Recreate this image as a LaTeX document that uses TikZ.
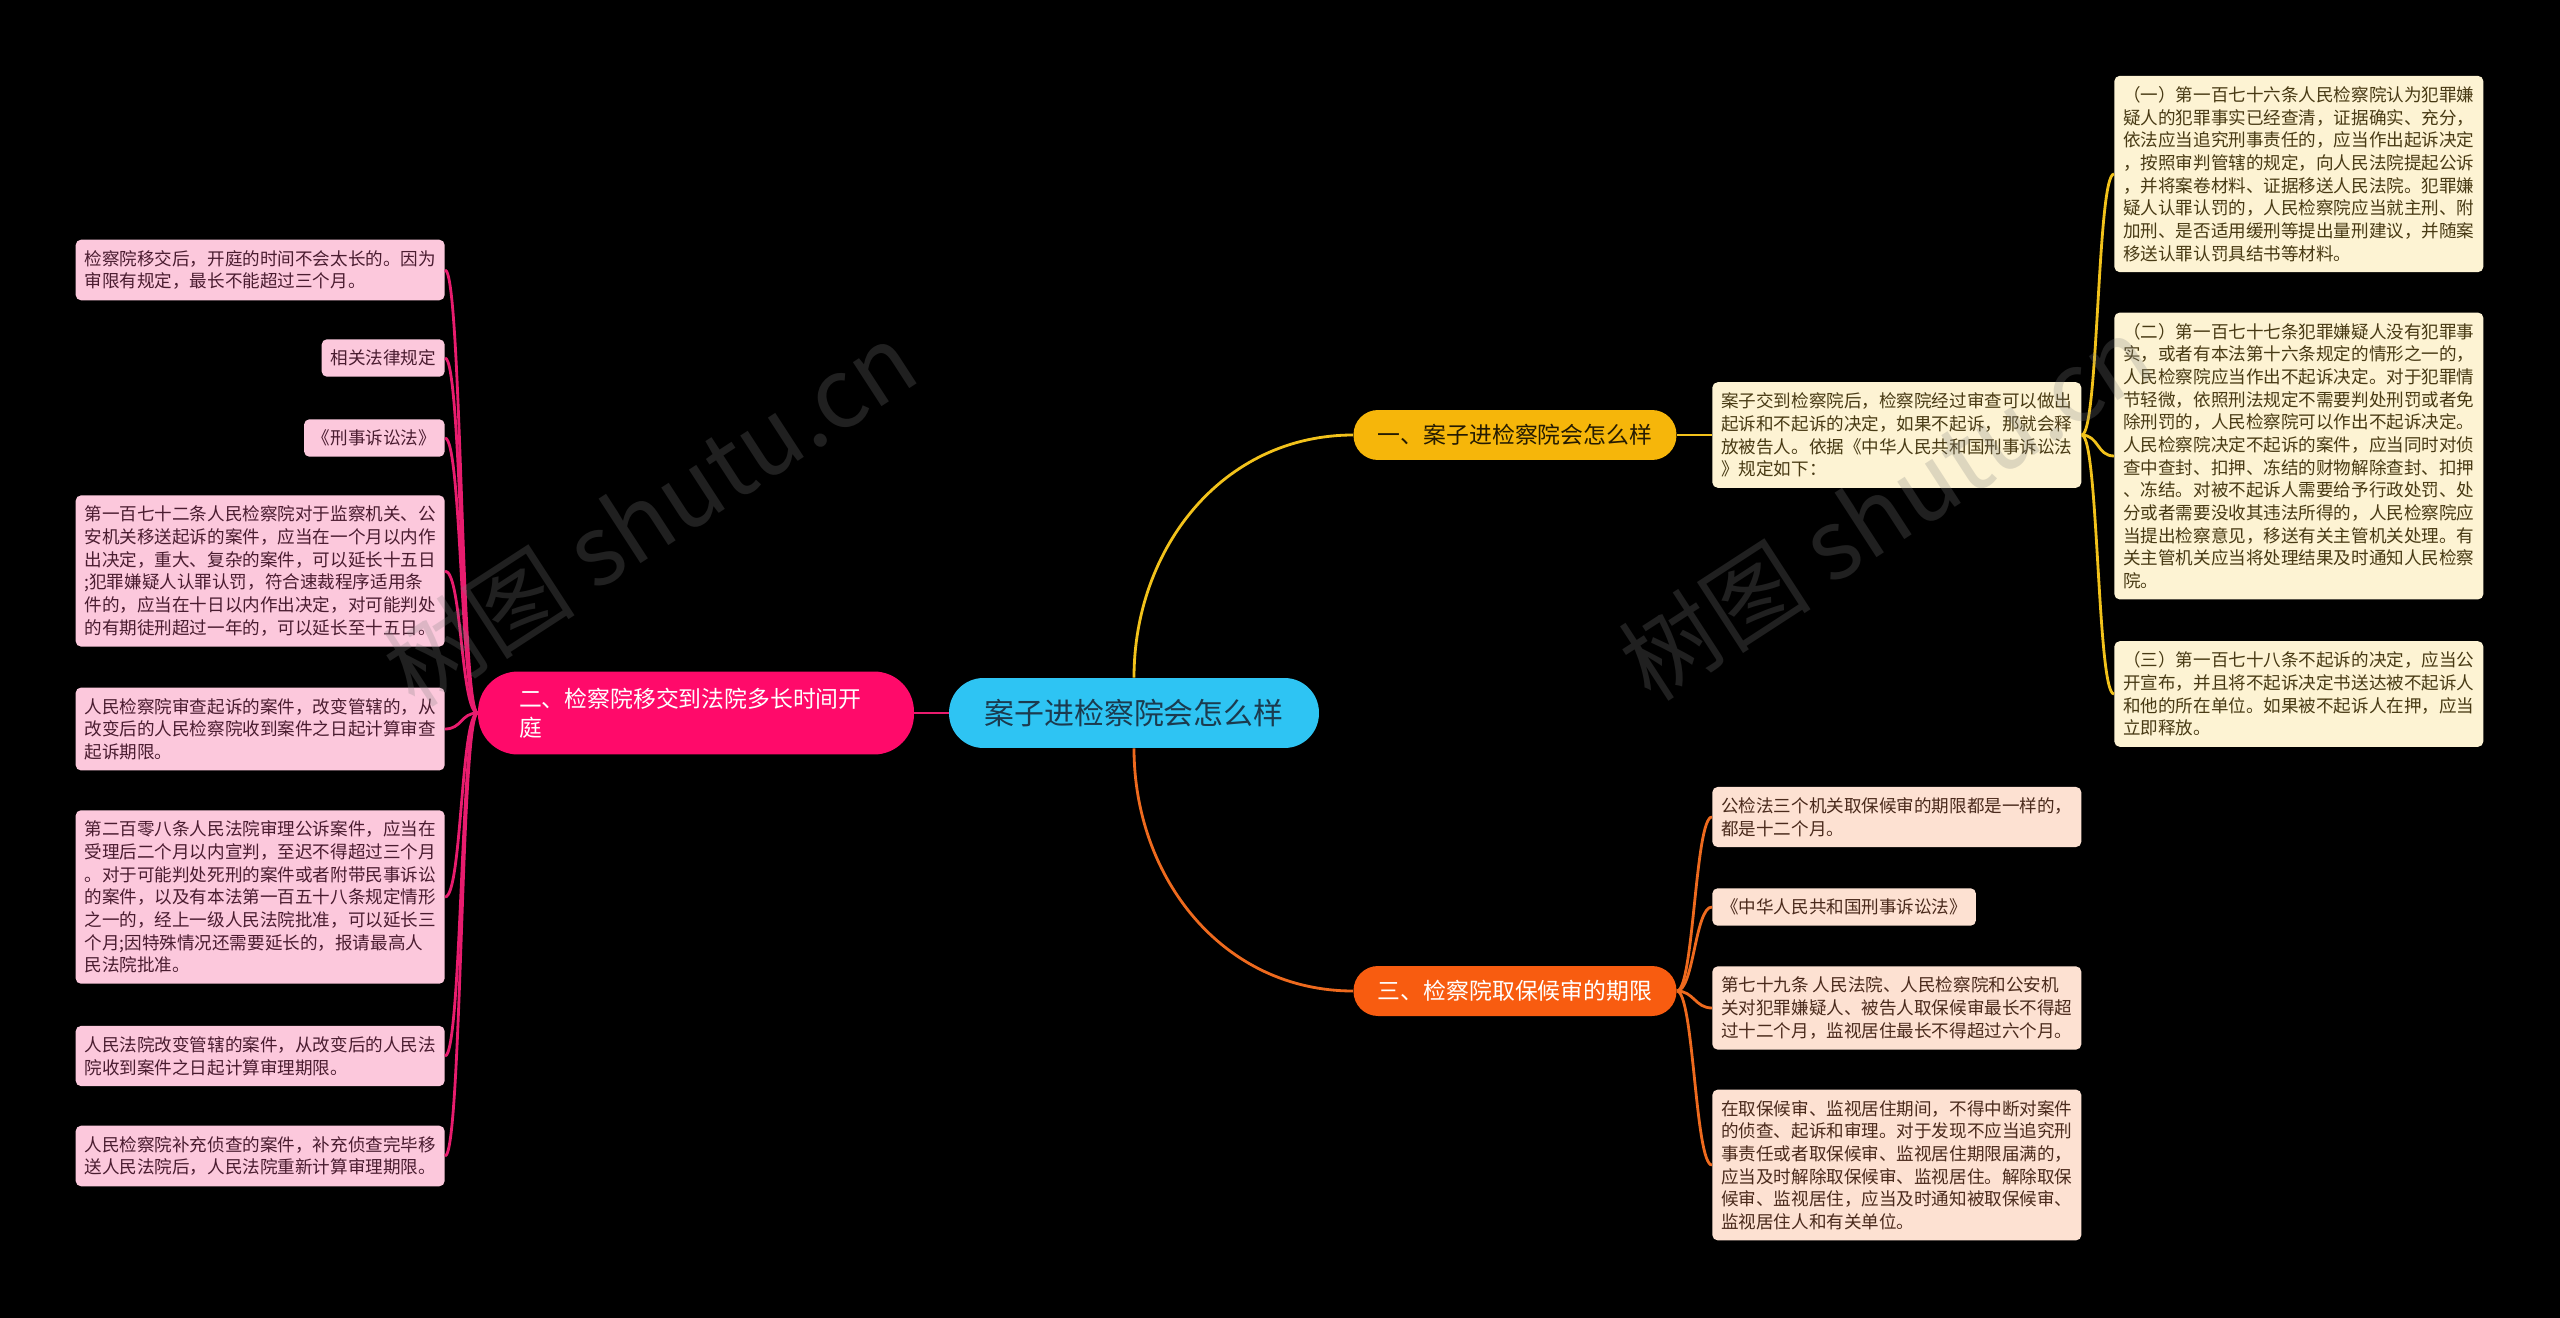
\documentclass[tikz,border=0pt]{standalone}
\usepackage{fontspec}
\setmainfont{Noto Sans CJK SC}
\usepackage{xcolor}
\usetikzlibrary{positioning}

\definecolor{rootblue}{HTML}{2EC4F3}
\definecolor{rootink}{HTML}{1B3B4F}
\definecolor{oneyellow}{HTML}{F6B60A}
\definecolor{onelink}{HTML}{F2C21B}
\definecolor{twopink}{HTML}{FF0A6A}
\definecolor{twolink}{HTML}{E81C6E}
\definecolor{threeorange}{HTML}{F85C10}
\definecolor{threelink}{HTML}{EE6A1E}
\definecolor{creambox}{HTML}{FDF3D3}
\definecolor{pinkbox}{HTML}{FCC8DC}
\definecolor{peachbox}{HTML}{FDE1D2}
\definecolor{pinkink}{HTML}{4A1C30}
\definecolor{creamink}{HTML}{483A14}
\definecolor{peachink}{HTML}{4A2A1C}

\tikzset{
  leaf/.style={rounded corners=3pt, align=left, inner xsep=5pt, inner ysep=6pt,
    font=\fontsize{10pt}{12.9pt}\selectfont},
  pinkleaf/.style={leaf, fill=pinkbox, text=pinkink, anchor=east},
  creamleaf/.style={leaf, fill=creambox, text=creamink, anchor=west},
  peachleaf/.style={leaf, fill=peachbox, text=peachink, anchor=west},
  branch/.style={rounded corners=0.49cm, minimum width=6.46cm, minimum height=1cm,
    font=\fontsize{13pt}{16.5pt}\selectfont},
  link/.style={line width=1.6pt},
  watermark/.style={text=gray, opacity=0.25, rotate=33,
    font=\fontsize{55pt}{60pt}\selectfont}
}

\begin{document}
\begin{tikzpicture}[x=0.02cm, y=-0.02cm]
    % Background
    \fill[black] (0,0) rectangle (2560,1318);

    % Centre and main branches
    \node[fill=rootblue, text=rootink, rounded corners=0.69cm, minimum width=7.4cm,
      minimum height=1.4cm, font=\fontsize{17pt}{20pt}\selectfont] (root) at (1134,713) {案子进检察院会怎么样};
    \node[branch, fill=oneyellow, text=black!85!oneyellow] (one) at (1515,435) {一、案子进检察院会怎么样};
    \node[branch, fill=twopink, text=white, minimum width=8.72cm, minimum height=1.66cm,
      rounded corners=0.8cm, align=left, text width=7.08cm, inner xsep=0.82cm] (two) at (696,713)
      {二、检察院移交到法院多长时间开\\庭};
    \node[branch, fill=threeorange, text=white] (three) at (1515,991) {三、检察院取保候审的期限};

    % Branch one
    \node[creamleaf] (intro) at (1712,435) {案子交到检察院后，检察院经过审查可以做出\\起诉和不起诉的决定，如果不起诉，那就会释\\放被告人。依据《中华人民共和国刑事诉讼法\\》规定如下：};
    \node[creamleaf] (a) at (2114,174) {（一）第一百七十六条人民检察院认为犯罪嫌\\疑人的犯罪事实已经查清，证据确实、充分，\\依法应当追究刑事责任的，应当作出起诉决定\\，按照审判管辖的规定，向人民法院提起公诉\\，并将案卷材料、证据移送人民法院。犯罪嫌\\疑人认罪认罚的，人民检察院应当就主刑、附\\加刑、是否适用缓刑等提出量刑建议，并随案\\移送认罪认罚具结书等材料。};
    \node[creamleaf] (b) at (2114,456) {（二）第一百七十七条犯罪嫌疑人没有犯罪事\\实，或者有本法第十六条规定的情形之一的，\\人民检察院应当作出不起诉决定。对于犯罪情\\节轻微，依照刑法规定不需要判处刑罚或者免\\除刑罚的，人民检察院可以作出不起诉决定。\\人民检察院决定不起诉的案件，应当同时对侦\\查中查封、扣押、冻结的财物解除查封、扣押\\、冻结。对被不起诉人需要给予行政处罚、处\\分或者需要没收其违法所得的，人民检察院应\\当提出检察意见，移送有关主管机关处理。有\\关主管机关应当将处理结果及时通知人民检察\\院。};
    \node[creamleaf] (c) at (2114,694) {（三）第一百七十八条不起诉的决定，应当公\\开宣布，并且将不起诉决定书送达被不起诉人\\和他的所在单位。如果被不起诉人在押，应当\\立即释放。};

    % Branch two
    \node[pinkleaf] (l1) at (445,270) {检察院移交后，开庭的时间不会太长的。因为\\审限有规定，最长不能超过三个月。};
    \node[pinkleaf] (l2) at (445,358) {相关法律规定};
    \node[pinkleaf] (l3) at (445,438) {《刑事诉讼法》};
    \node[pinkleaf] (l4) at (445,571) {第一百七十二条人民检察院对于监察机关、公\\安机关移送起诉的案件，应当在一个月以内作\\出决定，重大、复杂的案件，可以延长十五日\\;犯罪嫌疑人认罪认罚，符合速裁程序适用条\\件的，应当在十日以内作出决定，对可能判处\\的有期徒刑超过一年的，可以延长至十五日。};
    \node[pinkleaf] (l5) at (445,729) {人民检察院审查起诉的案件，改变管辖的，从\\改变后的人民检察院收到案件之日起计算审查\\起诉期限。};
    \node[pinkleaf] (l6) at (445,897) {第二百零八条人民法院审理公诉案件，应当在\\受理后二个月以内宣判，至迟不得超过三个月\\。对于可能判处死刑的案件或者附带民事诉讼\\的案件，以及有本法第一百五十八条规定情形\\之一的，经上一级人民法院批准，可以延长三\\个月;因特殊情况还需要延长的，报请最高人\\民法院批准。};
    \node[pinkleaf] (l7) at (445,1056) {人民法院改变管辖的案件，从改变后的人民法\\院收到案件之日起计算审理期限。};
    \node[pinkleaf] (l8) at (445,1156) {人民检察院补充侦查的案件，补充侦查完毕移\\送人民法院后，人民法院重新计算审理期限。};

    % Branch three
    \node[peachleaf] (d) at (1712,817) {公检法三个机关取保候审的期限都是一样的，\\都是十二个月。};
    \node[peachleaf] (e) at (1712,907) {《中华人民共和国刑事诉讼法》};
    \node[peachleaf] (f) at (1712,1008) {第七十九条 人民法院、人民检察院和公安机\\关对犯罪嫌疑人、被告人取保候审最长不得超\\过十二个月，监视居住最长不得超过六个月。};
    \node[peachleaf] (g) at (1712,1165) {在取保候审、监视居住期间，不得中断对案件\\的侦查、起诉和审理。对于发现不应当追究刑\\事责任或者取保候审、监视居住期限届满的，\\应当及时解除取保候审、监视居住。解除取保\\候审、监视居住，应当及时通知被取保候审、\\监视居住人和有关单位。};

    % Links
    \draw[link, onelink] (root.north) .. controls +(0,-130) and +(-130,0) .. (one.west);
    \draw[link, twolink] (root.west) -- (two.east);
    \draw[link, threelink] (root.south) .. controls +(0,130) and +(-130,0) .. (three.west);
    \draw[link, onelink] (one.east) -- (intro.west);
    \foreach \n in {a,b,c}
        \draw[link, onelink] (intro.east) .. controls +(17,0) and +(-17,0) .. (\n.west);
    \foreach \n in {l1,l2,l3,l4,l5,l6,l7,l8}
        \draw[link, twolink] (two.west) .. controls +(-17,0) and +(17,0) .. (\n.east);
    \foreach \n in {d,e,f,g}
        \draw[link, threelink] (three.east) .. controls +(17,0) and +(-17,0) .. (\n.west);

    % Watermarks
    \node[watermark] (markleft) at (650,514) {树图 shutu.cn};
    \node[watermark] (markright) at (1886,508) {树图 shutu.cn};
\end{tikzpicture}
\end{document}
